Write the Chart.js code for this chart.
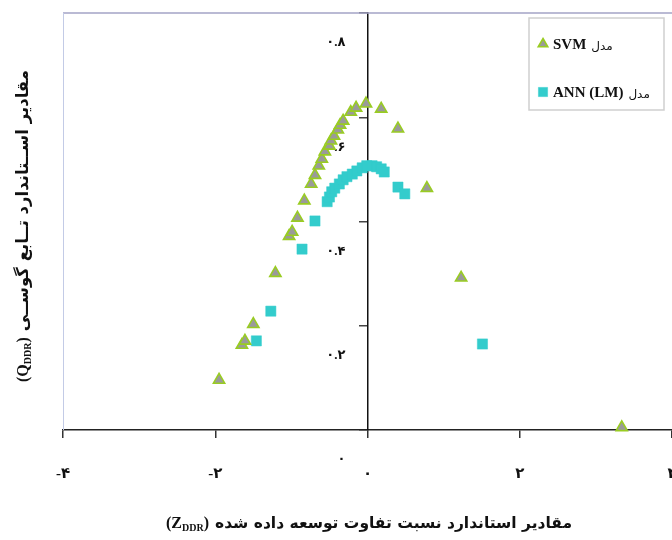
<!DOCTYPE html>
<html><head><meta charset="utf-8">
<script src="https://cdn.jsdelivr.net/npm/chart.js@4.4.1/dist/chart.umd.min.js"></script>
<style>html,body{margin:0;padding:0;background:#fff}canvas{display:block}</style>
</head><body>
<canvas id="c" width="672" height="540"></canvas>
<script>
// ---- data ----
const xTickValues = [-4, -2, 0, 2, 4];
const yTickValues = [0, 0.2, 0.4, 0.6, 0.8];
const modelWord = 'مدل';
const seriesNames = ['SVM', 'ANN (LM)'];
const svmX = [-1.95,-1.65,-1.61,-1.50,-1.21,-1.03,-0.99,-0.92,-0.83,-0.74,-0.69,-0.64,-0.60,-0.56,-0.50,-0.48,-0.44,-0.39,-0.36,-0.32,-0.22,-0.15,-0.02,0.18,0.40,0.78,1.23,3.34];
const svmY = [0.096,0.163,0.171,0.203,0.301,0.372,0.380,0.407,0.440,0.472,0.489,0.507,0.520,0.534,0.545,0.555,0.564,0.576,0.585,0.593,0.610,0.618,0.626,0.616,0.578,0.464,0.292,0.005];
const annX = [-1.46,-1.27,-0.86,-0.69,-0.53,-0.50,-0.47,-0.43,-0.37,-0.32,-0.27,-0.20,-0.14,-0.07,-0.01,0.06,0.12,0.18,0.22,0.40,0.49,1.51];
const annY = [0.171,0.228,0.347,0.401,0.438,0.447,0.457,0.464,0.472,0.480,0.486,0.491,0.497,0.503,0.507,0.507,0.505,0.501,0.495,0.466,0.453,0.165];
const xTitleText = 'مقادیر استاندارد نسبت تفاوت توسعه داده شده';
const xTitleSymbol = 'Z';
const yTitleText = 'مقادیر اســتاندارد تــابع گوســی';
const yTitleSymbol = 'Q';
const titleSubscript = 'DDR';

// ---- helpers ----
const FA_DIGITS = '۰۱۲۳۴۵۶۷۸۹';
function toFa(v, decimals) {
  const s = (Math.abs(v) < 1e-9 ? 0 : v).toFixed(decimals);
  return s.replace(/\d/g, d => FA_DIGITS[+d]);
}
const pts = (xs, ys) => xs.map((x, i) => ({x, y: ys[i]}));
const SERIF = '"Liberation Serif", "DejaVu Sans", serif';
const PERSIAN = '"DejaVu Sans", sans-serif';

const styles = [
  {pointStyle: 'triangle', radius: 6.5, backgroundColor: '#9a9a9a', borderColor: '#99cc22', borderWidth: 1.6},
  {pointStyle: 'rect', radius: 7.2, backgroundColor: '#33cccc', borderColor: '#33cccc', borderWidth: 0.5}
];

function zeroPad(s) { s.paddingLeft = 0; s.paddingRight = 0; s.paddingTop = 0; s.paddingBottom = 0; }

function drawTitle(ctx, persian, sym, cx, cy, rotate, faSize) {
  ctx.save();
  ctx.translate(cx, cy);
  if (rotate) ctx.rotate(-Math.PI / 2);
  const fBig = 'bold 16px ' + SERIF;
  const fSub = 'bold 10px ' + SERIF;
  const fFa = 'bold ' + faSize + 'px ' + PERSIAN;
  ctx.font = fBig; const w1 = ctx.measureText('(' + sym).width; const w3 = ctx.measureText(')').width; const sp = 6;
  ctx.font = fSub; const w2 = ctx.measureText(titleSubscript).width;
  ctx.font = fFa; const w4 = ctx.measureText(persian).width;
  const total = w1 + w2 + w3 + sp + w4;
  let x = -total / 2;
  ctx.fillStyle = '#111';
  ctx.textBaseline = 'alphabetic';
  ctx.textAlign = 'left';
  ctx.font = fBig; ctx.fillText('(' + sym, x, 6); x += w1;
  ctx.font = fSub; ctx.fillText(titleSubscript, x, 9); x += w2;
  ctx.font = fBig; ctx.fillText(')', x, 6); x += w3 + sp;
  ctx.font = fFa; ctx.direction = 'rtl'; ctx.textAlign = 'left'; ctx.fillText(persian, x, 6);
  ctx.restore();
}

const decorPlugin = {
  id: 'decor',
  beforeDraw(chart) {
    const {ctx, width, height} = chart;
    ctx.save(); ctx.fillStyle = '#fff'; ctx.fillRect(0, 0, width, height); ctx.restore();
  },
  beforeDatasetsDraw(chart) {
    const {ctx, chartArea: a} = chart;
    ctx.save();
    ctx.strokeStyle = '#a3a3c6'; ctx.lineWidth = 1.5;
    ctx.beginPath(); ctx.moveTo(a.left, a.top); ctx.lineTo(a.right, a.top); ctx.stroke();
    ctx.strokeStyle = '#c3cbe6'; ctx.lineWidth = 1;
    ctx.beginPath(); ctx.moveTo(a.left + 0.5, a.top); ctx.lineTo(a.left + 0.5, a.bottom); ctx.stroke();
    ctx.restore();
  },
  afterDraw(chart) {
    const {ctx} = chart;
    const bx = 529, by = 18, bw = 135, bh = 92;
    ctx.save();
    ctx.fillStyle = '#fff'; ctx.fillRect(bx, by, bw, bh);
    ctx.strokeStyle = '#cfcfcf'; ctx.lineWidth = 1.5; ctx.strokeRect(bx, by, bw, bh);
    chart.data.datasets.forEach((ds, i) => {
      const y = by + 26 + i * 48;
      const st = styles[i];
      ctx.fillStyle = st.backgroundColor; ctx.strokeStyle = st.borderColor; ctx.lineWidth = st.borderWidth;
      Chart.helpers.drawPoint(ctx, {pointStyle: st.pointStyle, radius: st.pointStyle === 'rect' ? 6.5 : 5.5, rotation: 0, borderWidth: st.borderWidth}, bx + 14, y);
      ctx.fillStyle = '#111'; ctx.textBaseline = 'middle'; ctx.textAlign = 'left'; ctx.direction = 'ltr';
      ctx.font = 'bold 15px ' + SERIF;
      const name = seriesNames[i];
      ctx.fillText(name, bx + 24, y + 1);
      const w = ctx.measureText(name).width;
      ctx.font = '12px ' + PERSIAN;
      ctx.direction = 'rtl'; ctx.textAlign = 'left';
      ctx.fillText(modelWord, bx + 24 + w + 5, y + 3);
    });
    ctx.restore();
    drawTitle(ctx, xTitleText, xTitleSymbol, 369, 522, false, 15.5);
    drawTitle(ctx, yTitleText, yTitleSymbol, 22, 226, true, 16.5);
  }
};

new Chart(document.getElementById('c'), {
  type: 'scatter',
  data: {
    datasets: [
      Object.assign({label: modelWord + ' ' + seriesNames[0], data: pts(svmX, svmY), pointRadius: styles[0].radius, pointHoverRadius: styles[0].radius, clip: false}, styles[0]),
      Object.assign({label: modelWord + ' ' + seriesNames[1], data: pts(annX, annY), pointRadius: styles[1].radius, pointHoverRadius: styles[1].radius, clip: false}, styles[1])
    ]
  },
  options: {
    responsive: false,
    animation: false,
    events: [],
    layout: {autoPadding: false, padding: {left: 63, top: 13, right: 0, bottom: 0}},
    plugins: {legend: {display: false}, tooltip: {enabled: false}, title: {display: false}},
    scales: {
      x: {
        type: 'linear', position: 'bottom', min: -4, max: 4,
        afterBuildTicks: s => { s.ticks = xTickValues.map(v => ({value: v})); },
        afterFit: s => { s.height = 110; zeroPad(s); },
        ticks: {padding: 27, color: '#111', maxRotation: 0, font: {family: SERIF, size: 15, weight: 'bold'},
          callback: v => (v < 0 ? '-' : '') + toFa(Math.abs(v), 0)},
        grid: {display: true, drawOnChartArea: false, drawTicks: true, tickLength: 8, color: '#333', lineWidth: 1.5},
        border: {display: true, color: '#222', width: 1.5}
      },
      y: {
        type: 'linear', position: {x: 0}, min: 0, max: 0.8,
        afterBuildTicks: s => { s.ticks = yTickValues.map(v => ({value: v})); },
        afterFit: s => { zeroPad(s); },
        ticks: {display: false},
        grid: {display: true, drawOnChartArea: false, drawTicks: true, tickLength: 8, color: '#444', lineWidth: 1.5},
        border: {display: true, color: '#111', width: 1.5}
      },
      yLabels: {
        type: 'linear', position: {x: -0.29}, min: 0, max: 0.8,
        afterBuildTicks: s => { s.ticks = yTickValues.map(v => ({value: v})); },
        afterFit: s => { zeroPad(s); },
        ticks: {labelOffset: 30, color: '#111', font: {family: SERIF, size: 13, weight: 'bold'},
          callback: v => toFa(v, 1).replace(/^۰\.۰$/, '۰')},
        grid: {display: false},
        border: {display: false}
      }
    }
  },
  plugins: [decorPlugin]
});
</script>
</body></html>
